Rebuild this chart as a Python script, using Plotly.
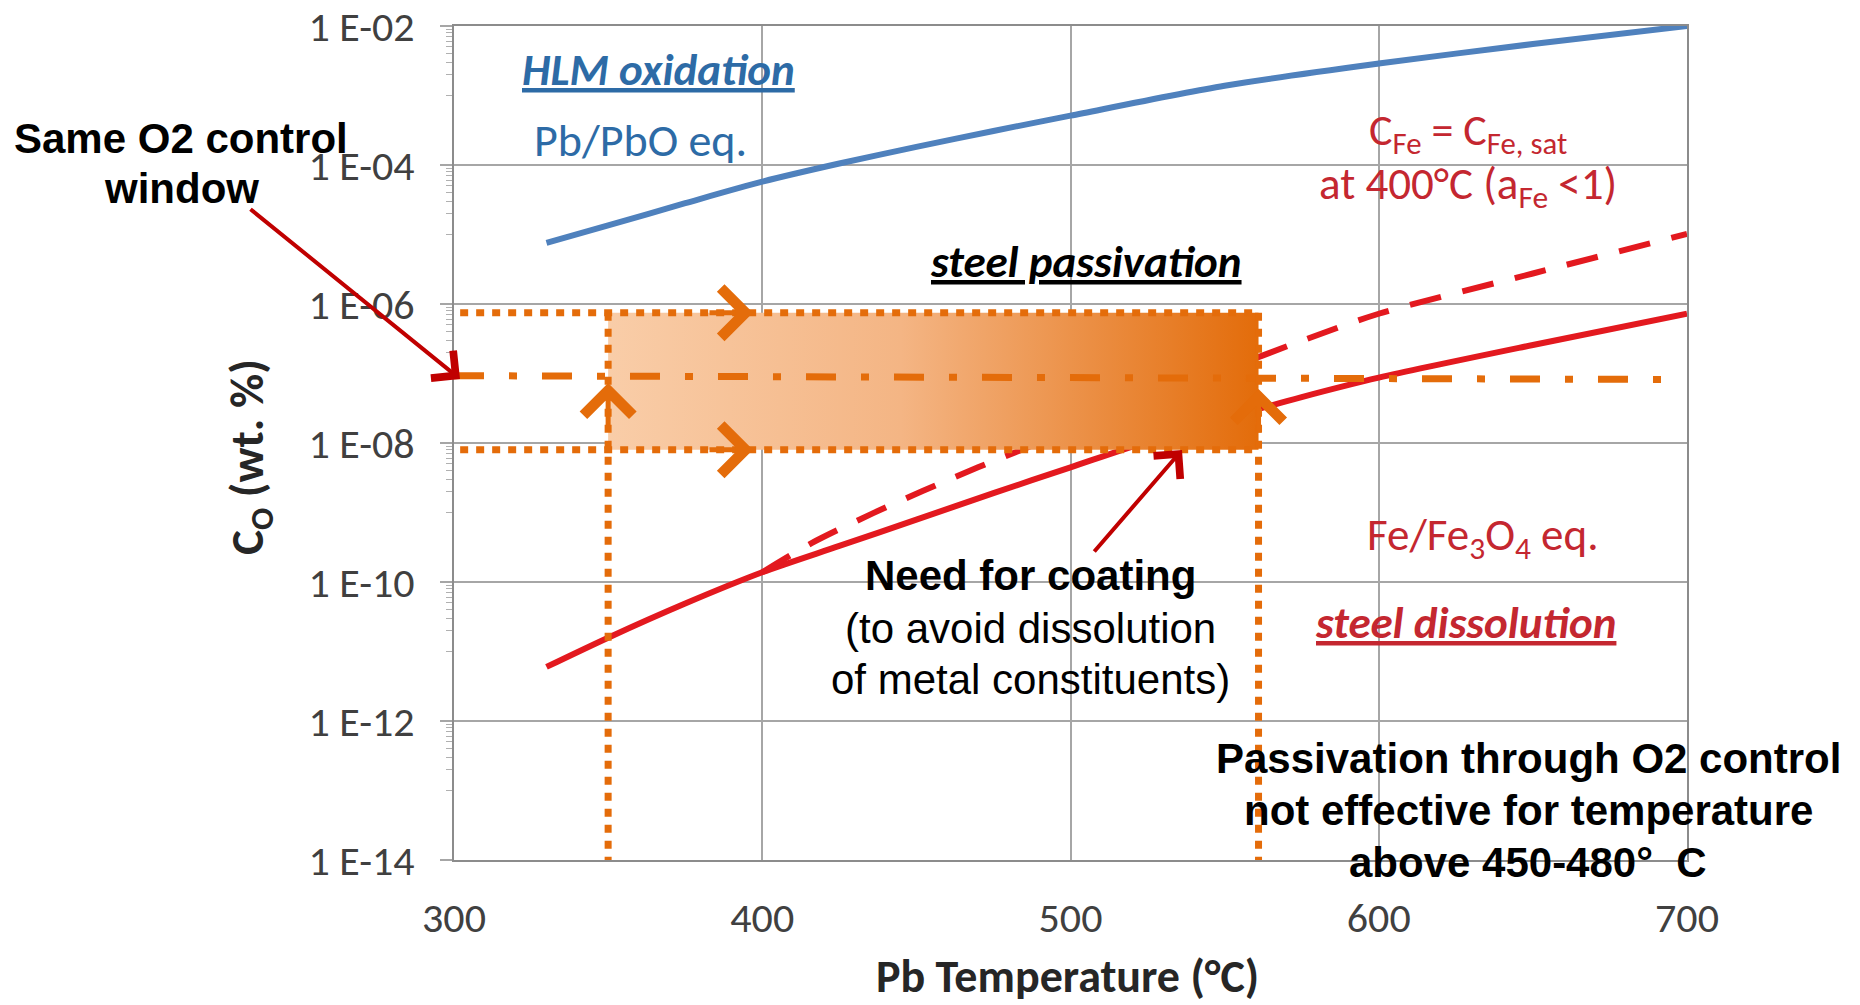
import math
import plotly.graph_objects as go

# ---------------- data ----------------
temp_pbo = [330, 350, 375, 400, 425, 450, 475, 500, 550, 600, 650, 700]
co_pbo = [7.59e-6, 1.35e-5, 2.82e-5, 5.75e-5, 1.05e-4, 1.82e-4, 3.09e-4, 5.13e-4, 1.38e-3,
          2.88e-3, 5.5e-3, 1.0e-2]

temp_fe = [330, 350, 375, 400, 425, 450, 475, 500, 525, 550, 575, 600, 650, 700]
co_fe = [6.0e-12, 1.58e-11, 4.9e-11, 1.38e-10, 3.3e-10, 7.9e-10, 1.9e-9, 4.47e-9, 1.05e-8,
         2.24e-8, 4.57e-8, 8.7e-8, 2.57e-7, 7.24e-7]

temp_fe_sat = [400, 416, 436, 452, 470, 500, 525, 550, 575, 600, 650, 700]
co_fe_sat = [1.38e-10, 3.63e-10, 9.8e-10, 2.04e-9, 4.47e-9, 1.51e-8, 4.07e-8, 1.12e-7,
             2.95e-7, 7.24e-7, 2.75e-6, 1.02e-5]

window_temps = [350, 561]          # temperature limits of the O2 control window
window_co = [8.0e-9, 7.5e-7]       # lower / upper oxygen limits
guide_temps = [302, 561]           # extent of the dotted horizontal guides
o2_control_temps = [300, 696]
o2_control_co = [9.3e-8, 8.2e-8]
axis_floor = 1e-14

x_tick_vals = [300, 400, 500, 600, 700]
y_tick_vals = [1e-2, 1e-4, 1e-6, 1e-8, 1e-10, 1e-12, 1e-14]
y_tick_text = ["1 E-02", "1 E-04", "1 E-06", "1 E-08", "1 E-10", "1 E-12", "1 E-14"]

# ---------------- styling ----------------
CAL = "Carlito, Lato, sans-serif"
ARIAL = "Liberation Sans, Arial, sans-serif"
ORANGE = "#E46C0A"
RED = "#E3191F"
BLUE = "#4F81BD"
DARKRED = "#C00000"
TXT_BLUE = "#2D6BA6"
TXT_RED = "#C42730"

L, R, T, B = 454, 1687, 26, 860


def pp(x, y):
    return (x - L) / (R - L), (B - y) / (B - T)


minor_vals = []
for e in range(-13, -2, 2):
    for k in range(1, 10):
        minor_vals.append(k * 10 ** e)

fig = go.Figure()

fig.add_trace(go.Scatter(x=temp_pbo, y=co_pbo, mode="lines",
                         line=dict(color=BLUE, width=6, shape="spline", smoothing=0.8),
                         showlegend=False))
fig.add_trace(go.Scatter(x=temp_fe, y=co_fe, mode="lines",
                         line=dict(color=RED, width=6, shape="spline", smoothing=0.8),
                         showlegend=False))
fig.add_trace(go.Scatter(x=temp_fe_sat, y=co_fe_sat, mode="lines",
                         line=dict(color=RED, width=6, dash="32px,22px", shape="spline",
                                   smoothing=0.8),
                         showlegend=False))

# gradient window box
fig.add_trace(go.Scatter(
    x=[window_temps[0], window_temps[1], window_temps[1], window_temps[0], window_temps[0]],
    y=[window_co[1], window_co[1], window_co[0], window_co[0], window_co[1]],
    mode="lines", line=dict(width=0), fill="toself",
    fillgradient=dict(type="horizontal",
                      colorscale=[[0, "#F9CDA8"], [0.45, "#F4B584"], [1, "#E36C0A"]]),
    showlegend=False, hoverinfo="skip"))

# O2 control dash-dot line
fig.add_trace(go.Scatter(x=o2_control_temps, y=o2_control_co, mode="lines",
                         line=dict(color=ORANGE, width=7, dash="30px,25px,8px,25px"),
                         showlegend=False))

dot = dict(color=ORANGE, width=7, dash="8px,8px")
for yv in window_co:
    fig.add_trace(go.Scatter(x=guide_temps, y=[yv, yv], mode="lines", line=dot, showlegend=False))
for xv in window_temps:
    fig.add_trace(go.Scatter(x=[xv, xv], y=[window_co[1], axis_floor], mode="lines", line=dot,
                             showlegend=False))

annotations = []


def txt(x, y, text, size, color="black", family=CAL, angle=0):
    px, py = pp(x, y)
    annotations.append(dict(x=px, y=py, xref="paper", yref="paper", text=text, showarrow=False,
                            font=dict(family=family, size=size, color=color),
                            xanchor="center", yanchor="middle", textangle=angle))


txt(658, 69, "<b><i><u>HLM oxidation</u></i></b>", 45, TXT_BLUE)
txt(640, 140, "Pb/PbO eq.", 46, TXT_BLUE)
txt(1468, 132, "C<sub>Fe</sub> = C<sub>Fe, sat</sub>", 44, TXT_RED)
txt(1468, 186, "at 400°C (a<sub>Fe</sub> &lt;1)", 45, TXT_RED)
txt(1086, 261, "<b><i><u>steel passivation</u></i></b>", 45, "black")
txt(1483, 537, "Fe/Fe<sub>3</sub>O<sub>4</sub> eq.", 45, TXT_RED)
txt(1465, 622, "<b><i><u>steel dissolution</u></i></b>", 45, TXT_RED)

txt(181, 138, "<b>Same O2 control</b>", 42, "black", ARIAL)
txt(181, 188, "<b>window</b>", 42, "black", ARIAL)
txt(1030, 575, "<b>Need for coating</b>", 42, "black", ARIAL)
txt(1030, 628, "(to avoid dissolution", 42, "black", ARIAL)
txt(1030, 679, "of metal constituents)", 42, "black", ARIAL)
txt(1528, 758, "<b>Passivation through O2 control</b>", 42, "black", ARIAL)
txt(1528, 810, "<b>not effective for temperature</b>", 42, "black", ARIAL)
txt(1528, 862, "<b>above 450-480°  C</b>", 42, "black", ARIAL)

txt(1067, 976, "<b>Pb Temperature (°C)</b>", 46, "#262626")
txt(250, 457, "<b>C<sub>O</sub> (wt. %)</b>", 47, "#262626", angle=-90)

# red pointer arrows
for hx, hy, tx, ty in [(460, 379, 249, 208), (1182, 450, 1093, 553)]:
    px, py = pp(hx, hy)
    annotations.append(dict(x=px, y=py, xref="paper", yref="paper", text="", showarrow=True,
                            ax=tx - hx, ay=ty - hy, arrowcolor=DARKRED, arrowwidth=4,
                            arrowhead=4, arrowsize=1.7))

# orange chevrons on the window guides
for xv, yv, dx, dy in [(397, window_co[1], -45, 0), (397, window_co[0], -45, 0),
                       (window_temps[0], 7.3e-8, 0, 45), (window_temps[1], 6.0e-8, 0, 45)]:
    annotations.append(dict(x=xv, y=math.log10(yv), xref="x", yref="y", text="",
                            showarrow=True, ax=dx, ay=dy, arrowcolor=ORANGE, arrowwidth=5,
                            arrowhead=4, arrowsize=1.9))

fig.update_layout(
    width=1860, height=1005,
    margin=dict(l=L, r=1860 - R, t=T, b=1005 - B),
    paper_bgcolor="white", plot_bgcolor="white",
    annotations=annotations,
    xaxis=dict(range=[300, 700], tickvals=x_tick_vals, showgrid=True, gridcolor="#A6A6A6",
               gridwidth=2, showline=True, linecolor="#8C8C8C", linewidth=2, mirror=True,
               ticks="", zeroline=False, ticklabelstandoff=20, automargin=False,
               tickfont=dict(family=CAL, size=42, color="#404040")),
    yaxis=dict(type="log", range=[-14, -2], tickvals=y_tick_vals, ticktext=y_tick_text,
               showgrid=True, gridcolor="#A6A6A6", gridwidth=2, showline=True,
               linecolor="#8C8C8C", linewidth=2, mirror=True, ticks="outside", ticklen=12,
               tickwidth=2, tickcolor="#A6A6A6", ticklabelstandoff=17, zeroline=False,
               automargin=False,
               tickfont=dict(family=CAL, size=42, color="#404040"),
               minor=dict(tickmode="array", tickvals=minor_vals, ticks="outside", ticklen=6,
                          tickcolor="#B0B0B0", tickwidth=1, showgrid=False)),
)

fig.write_html("out.html", config={"displayModeBar": False},
               post_script="document.body.style.margin='0';document.body.style.overflow='hidden';")
